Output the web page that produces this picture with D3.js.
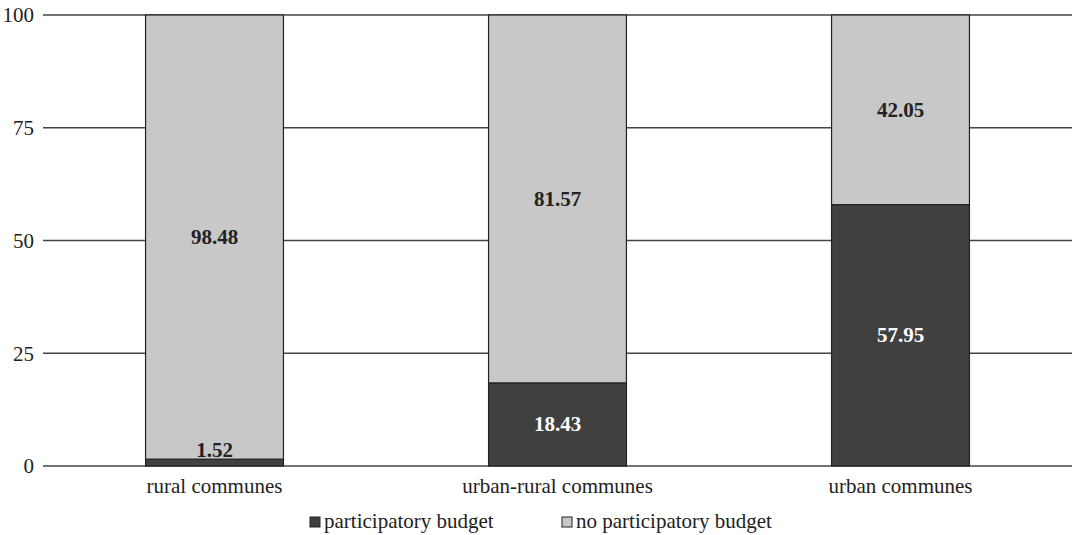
<!DOCTYPE html>
<html><head><meta charset="utf-8">
<script src="https://cdn.jsdelivr.net/npm/d3@7"></script>
<style>body{margin:0;background:#fff}svg{display:block}svg text{font-family:"Liberation Serif","Times New Roman","DejaVu Serif",serif !important}</style>
</head><body><svg id="c" width="1072" height="535"></svg>
<script>
const categories = ["rural communes","urban-rural communes","urban communes"];
const participatory = [1.52,18.43,57.95];
const noParticipatory = [98.48,81.57,42.05];
const seriesNames = ["participatory budget","no participatory budget"];
const yTicks = [0,25,50,75,100];
const colors = ["#404040","#c8c8c8"];
const FONT = '"Liberation Serif","Times New Roman",serif';

const svg = d3.select("#c");
const x = d3.scaleBand().domain(categories).range([43,1072]).paddingInner(0.598).paddingOuter(0.299);
const y = d3.scaleLinear().domain([0,100]).range([466,15]);

svg.append("g").selectAll("line").data(yTicks).join("line")
  .attr("x1",43).attr("x2",1072).attr("y1",d=>y(d)).attr("y2",d=>y(d))
  .attr("stroke","#444").attr("stroke-width",1.3);

const yAxis = d3.axisLeft(y).tickValues(yTicks).tickSize(0).tickPadding(9);
const gy = svg.append("g").attr("transform","translate(43,0)").call(yAxis)
  .attr("font-family",FONT).attr("font-size",21);
gy.select(".domain").remove();
gy.selectAll("text").style("font-family",FONT).style("font-size","21px").attr("fill","#222").attr("dy","0.33em");

const stack = categories.map((c,i)=>({c, vals:[participatory[i],noParticipatory[i]]}));
const g = svg.append("g");
stack.forEach(s=>{
  let base=0;
  s.vals.forEach((v,k)=>{
    g.append("rect").attr("x",x(s.c)).attr("width",x.bandwidth())
      .attr("y",y(base+v)).attr("height",y(base)-y(base+v))
      .attr("fill",colors[k]).attr("stroke","#222").attr("stroke-width",1.2);
    base+=v;
  });
});
stack.forEach(s=>{
  let base=0;
  s.vals.forEach((v,k)=>{
    const cx = x(s.c)+x.bandwidth()/2;
    const ly = v < 5 ? y(base+v) - 2 : y(base+v/2)+7;
    g.append("text").attr("x",cx).attr("y",ly).attr("text-anchor","middle")
      .style("font-family",FONT).style("font-size","21px").attr("font-weight","bold")
      .attr("fill", (k===0 && v>=5) ? "#fff" : "#222").text(v.toFixed(2));
    base+=v;
  });
});

const xAxis = d3.axisBottom(x).tickSize(0).tickPadding(0);
const gx = svg.append("g").attr("transform","translate(0,466)").call(xAxis)
  .attr("font-family",FONT).attr("font-size",21);
gx.select(".domain").remove();
gx.selectAll("text").style("font-family",FONT).style("font-size","21px").attr("fill","#222").attr("dy",null).attr("y",27);

const legX = [310,562];
const leg = svg.append("g");
seriesNames.forEach((n,i)=>{
  leg.append("rect").attr("x",legX[i]).attr("y",517).attr("width",10).attr("height",10)
    .attr("fill",colors[i]).attr("stroke","#222").attr("stroke-width",1);
  leg.append("text").attr("x",legX[i]+14).attr("y",528).style("font-family",FONT).style("font-size","21px").attr("fill","#222").text(n);
});
</script></body></html>
